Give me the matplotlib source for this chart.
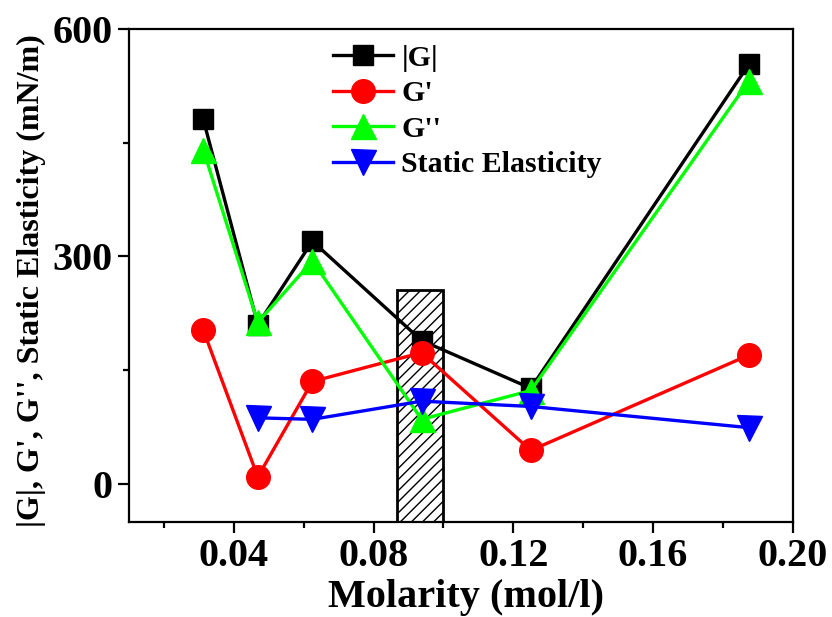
import numpy as np
import matplotlib.pyplot as plt
from matplotlib.ticker import MultipleLocator

# molarity (mol/l)
molarity = [0.03125, 0.046875, 0.0625, 0.09375, 0.125, 0.1875]
G_abs = [481, 210, 320, 189, 126, 554]
G_prime = [203, 9, 135, 173, 44, 170]
G_dprime = [441, 213, 294, 85, 123, 532]
static_molarity = [0.046875, 0.0625, 0.09375, 0.125, 0.1875]
static_elast = [87, 85, 109, 102, 74]

# shaded region
band_left = 0.0868
band_right = 0.1
band_top = 256

plt.rcParams['font.family'] = ['Liberation Serif', 'DejaVu Serif']
plt.rcParams['font.weight'] = 'bold'

fig = plt.figure(figsize=(8.32, 6.17), dpi=100)
ax = fig.add_axes([0.155, 0.1545, 0.798, 0.7985])

ymin = -50
ax.bar([(band_left + band_right) / 2], [band_top - ymin], bottom=ymin,
       width=band_right - band_left, color='white', edgecolor='black',
       hatch='///', linewidth=2, zorder=1)

lw = 2.4
ax.plot(molarity, G_abs, '-s', color='black', lw=lw, ms=15, label='|G|', zorder=3)
ax.plot(molarity, G_prime, '-o', color='red', lw=lw, ms=17, label="G'", zorder=3)
ax.plot(molarity, G_dprime, '-^', color='#00ff00', lw=lw, ms=18, label="G''", zorder=3)
ax.plot(static_molarity, static_elast, '-v', color='blue', lw=lw, ms=18,
        label='Static Elasticity', zorder=3)

ax.set_xlim(0.01, 0.20)
ax.set_ylim(ymin, 600)
ax.xaxis.set_minor_locator(MultipleLocator(0.02))
ax.yaxis.set_major_locator(MultipleLocator(300))
ax.yaxis.set_minor_locator(MultipleLocator(150))
ax.set_xticks([0.04, 0.08, 0.12, 0.16, 0.20])
ax.set_xticklabels(['0.04', '0.08', '0.12', '0.16', '0.20'])

for s in ax.spines.values():
    s.set_linewidth(1.6)
ax.tick_params(which='major', direction='out', length=8, width=1.6, labelsize=29, pad=4)
ax.tick_params(which='minor', direction='out', length=4, width=1.6)

ax.set_xlabel('Molarity (mol/l)', fontsize=29, fontweight='bold', labelpad=2)
ax.xaxis.set_label_coords(0.508, -0.116)
ax.set_ylabel("|G|, G', G'', Static Elasticity (mN/m)", fontsize=23,
              fontweight='bold')
ax.yaxis.set_label_coords(-0.125, 0.49)

ax.legend(loc='upper left', bbox_to_anchor=(0.289, 0.992), frameon=False,
          handlelength=2.0, handletextpad=0.3, labelspacing=0.28,
          borderaxespad=0, prop={'weight': 'bold', 'size': 21.5})

fig.savefig('out.png', dpi=100)
